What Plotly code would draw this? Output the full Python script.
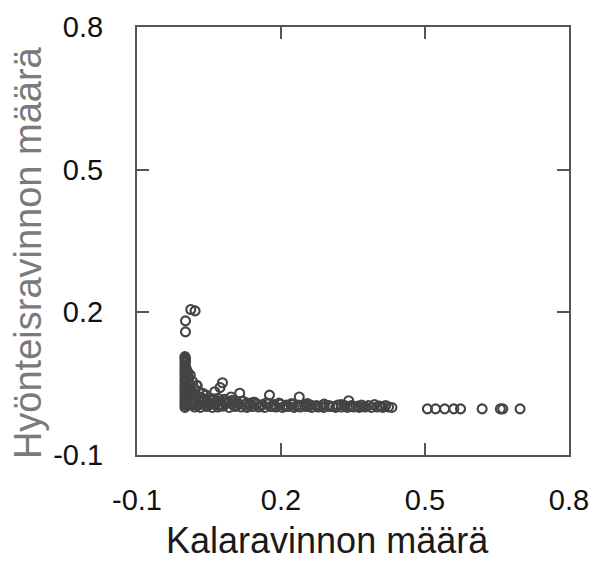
import plotly.graph_objects as go

# Fish prey (x) vs insect prey (y) proportions, one circle per observation

# Vertical stack of observations with no fish prey
col_x = [0.000, 0.000, 0.000, 0.000, 0.000, 0.000, 0.000, 0.000, 0.000, 0.000, 0.000,
         0.000, 0.000, 0.000, 0.000, 0.000, 0.000, 0.000, 0.000, 0.000, 0.000,
         0.003, 0.003, 0.003, 0.003, 0.003, 0.003, 0.003, 0.003,
         0.001, 0.001, 0.001, 0.001, 0.001, 0.001, 0.001, 0.001, 0.001, 0.001]
col_y = [0.000, 0.005, 0.011, 0.016, 0.022, 0.027, 0.033, 0.038, 0.044, 0.049, 0.055,
         0.060, 0.066, 0.071, 0.077, 0.082, 0.088, 0.093, 0.099, 0.104, 0.107,
         0.004, 0.014, 0.025, 0.036, 0.047, 0.058, 0.069, 0.080,
         0.008, 0.019, 0.030, 0.041, 0.052, 0.063, 0.074, 0.085, 0.096, 0.102]

# Shoulder next to the stack
sh_x = [0.008, 0.010, 0.012, 0.009, 0.014, 0.016, 0.019, 0.021, 0.023, 0.025,
        0.028, 0.031, 0.034, 0.037, 0.040, 0.044, 0.047, 0.051, 0.055, 0.060,
        0.064, 0.069, 0.075, 0.082, 0.090, 0.098, 0.107, 0.118, 0.130, 0.142,
        0.006, 0.011, 0.007, 0.013, 0.018, 0.027, 0.033, 0.042]
sh_y = [0.062, 0.048, 0.035, 0.022, 0.010, 0.054, 0.040, 0.028, 0.016, 0.046,
        0.034, 0.022, 0.010, 0.030, 0.018, 0.026, 0.012, 0.020, 0.008, 0.018,
        0.011, 0.019, 0.013, 0.017, 0.012, 0.015, 0.010, 0.013, 0.009, 0.011,
        0.074, 0.068, 0.041, 0.029, 0.006, 0.005, 0.016, 0.007]

# Main band along the bottom
band_x = [0.020, 0.032, 0.045, 0.057, 0.068, 0.080, 0.092, 0.104, 0.117, 0.129,
          0.141, 0.153, 0.166, 0.178, 0.190, 0.203, 0.215, 0.227, 0.240, 0.252,
          0.264, 0.277, 0.289, 0.301, 0.314, 0.326, 0.338, 0.351, 0.363, 0.375,
          0.388, 0.400, 0.412, 0.424, 0.431,
          0.062, 0.074, 0.086, 0.098, 0.111, 0.124, 0.136, 0.149, 0.161, 0.174,
          0.186, 0.199, 0.211, 0.224, 0.236, 0.249, 0.262, 0.274, 0.287, 0.300,
          0.318, 0.333, 0.347, 0.360, 0.382, 0.405,
          0.038, 0.052, 0.066, 0.083, 0.101, 0.121, 0.145, 0.170, 0.196, 0.222,
          0.255, 0.290, 0.325, 0.368, 0.395, 0.418,
          0.026, 0.050, 0.075, 0.108, 0.133, 0.158, 0.184, 0.208, 0.233, 0.258,
          0.283, 0.308, 0.343, 0.372, 0.409]
band_y = [0.001, 0.000, 0.002, 0.000, 0.001, 0.003, 0.000, 0.002, 0.001, 0.000,
          0.002, 0.001, 0.000, 0.002, 0.001, 0.000, 0.002, 0.000, 0.001, 0.002,
          0.000, 0.001, 0.000, 0.002, 0.000, 0.001, 0.000, 0.001, 0.000, 0.001,
          0.000, 0.001, 0.000, 0.001, 0.000,
          0.008, 0.006, 0.009, 0.007, 0.008, 0.006, 0.008, 0.007, 0.006, 0.008,
          0.006, 0.007, 0.005, 0.006, 0.005, 0.006, 0.005, 0.004, 0.005, 0.004,
          0.005, 0.004, 0.004, 0.003, 0.004, 0.003,
          0.014, 0.016, 0.013, 0.015, 0.012, 0.013, 0.011, 0.010, 0.009, 0.008,
          0.008, 0.007, 0.006, 0.005, 0.006, 0.004,
          0.004, 0.005, 0.003, 0.004, 0.003, 0.003, 0.002, 0.003, 0.002, 0.003,
          0.002, 0.002, 0.002, 0.002, 0.002]

# Scattered points above the band
mid_x = [0.025, 0.073, 0.078, 0.114, 0.176, 0.238, 0.341, 0.062, 0.096]
mid_y = [0.046, 0.042, 0.052, 0.030, 0.026, 0.022, 0.014, 0.033, 0.022]

# High insect share, almost no fish
hi_x = [0.001, 0.001, 0.012, 0.021]
hi_y = [0.159, 0.182, 0.206, 0.203]

# High fish share, no insects
tail_x = [0.505, 0.522, 0.541, 0.560, 0.574, 0.619, 0.657, 0.662, 0.698]
tail_y = [-0.003, -0.003, -0.003, -0.003, -0.003, -0.003, -0.003, -0.003, -0.003]

tick_vals = [-0.1, 0.2, 0.5, 0.8]
tick_text = ["-0.1", "0.2", "0.5", "0.8"]

all_x = col_x + sh_x + band_x + mid_x + hi_x + tail_x
all_y = col_y + sh_y + band_y + mid_y + hi_y + tail_y

FONT = "Liberation Sans, Arial, sans-serif"

fig = go.Figure(
    go.Scatter(
        x=all_x, y=all_y, mode="markers",
        marker=dict(symbol="circle-open", size=9, color="#444444",
                    line=dict(width=2.1, color="#444444")),
        hoverinfo="skip",
    )
)

axis_common = dict(
    range=[-0.1, 0.8], tickvals=tick_vals, ticktext=tick_text,
    showgrid=False, zeroline=False, automargin=False,
    showline=True, linecolor="#555555", linewidth=2, mirror="ticks",
    ticks="inside", ticklen=12, tickwidth=1.5, tickcolor="#555555",
    tickfont=dict(family=FONT, size=29, color="#111111"),
    ticklabeloverflow="allow",
)

fig.update_xaxes(**axis_common, ticklabelstandoff=18)
fig.update_yaxes(**axis_common, ticklabelstandoff=26)

fig.update_layout(
    width=591, height=580,
    margin=dict(l=137, r=22, t=27, b=125),
    paper_bgcolor="white", plot_bgcolor="white",
    showlegend=False,
    annotations=[
        dict(text="Kalaravinnon määrä", xref="paper", yref="paper",
             x=0.44, y=-0.199, xanchor="center", yanchor="middle",
             showarrow=False, font=dict(family=FONT, size=36, color="#1a1a1a")),
        dict(text="Hyönteisravinnon määrä", xref="paper", yref="paper",
             x=-0.252, y=0.472, xanchor="center", yanchor="middle", textangle=-90,
             showarrow=False, font=dict(family=FONT, size=38, color="#7a7a7a")),
    ],
)

fig.write_html("out.html")
